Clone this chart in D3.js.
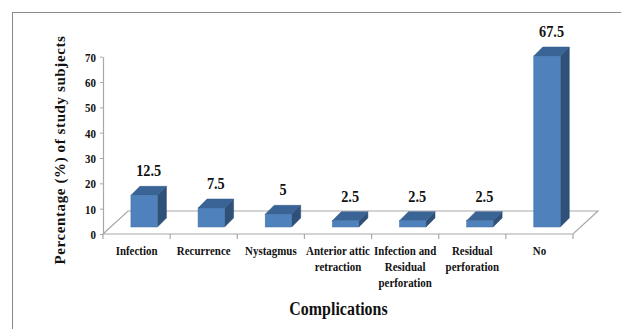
<!DOCTYPE html>
<html>
<head>
<meta charset="utf-8">
<script src="https://cdn.jsdelivr.net/npm/d3@7"></script>
<style>
  html, body { margin: 0; padding: 0; background: #fff; }
  svg { display: block; }
  text { font-family: "Liberation Serif", "Times New Roman", serif; font-weight: bold; fill: #111; }
</style>
</head>
<body>
<svg id="chart" width="621" height="329"></svg>
<script>
// Complications after surgery, percentage of study subjects
const categories = ["Infection", "Recurrence", "Nystagmus", "Anterior attic retraction",
  "Infection and Residual perforation", "Residual perforation", "No"];
const categoryLines = [["Infection"], ["Recurrence"], ["Nystagmus"], ["Anterior attic", "retraction"],
  ["Infection and", "Residual", "perforation"], ["Residual", "perforation"], ["No"]];
const values = [12.5, 7.5, 5, 2.5, 2.5, 2.5, 67.5];
const valueLabels = ["12.5", "7.5", "5", "2.5", "2.5", "2.5", "67.5"];
const yTicks = [0, 10, 20, 30, 40, 50, 60, 70];

const svg = d3.select("#chart");

// outer frame
svg.append("rect").attr("x", 12.5).attr("y", 12.5).attr("width", 620).attr("height", 330)
  .attr("fill", "none").attr("stroke", "#8a8a8a").attr("stroke-width", 1);

// plot geometry (front plane of the 3D floor)
const x0 = 103, x1 = 573, y0 = 234, yTop = 56.7;
const floorDx = 25, floorDy = -23;     // floor depth
const barShiftX = 7.6, barShiftY = -7;  // bars sit inside the floor depth
const depthX = 9, depthY = -9;          // bar thickness
const sx = 0.84;                        // narrow letterforms

const x = d3.scaleBand().domain(categories).range([x0, x1]).padding(0);
const y = d3.scaleLinear().domain([0, 70]).range([y0, yTop]);
const barW = x.bandwidth() * 0.395;

// floor outline
svg.append("path")
  .attr("d", `M${x0},${y0}L${x1},${y0}L${x1 + floorDx},${y0 + floorDy}L${x0 + floorDx},${y0 + floorDy}Z`)
  .attr("fill", "none").attr("stroke", "#a8a8a8").attr("stroke-width", 1.2);

// y axis
const yAxis = svg.append("g").attr("transform", `translate(${x0},0)`)
  .call(d3.axisLeft(y).tickValues(yTicks).tickSize(3).tickSizeOuter(0).tickFormat(d3.format("d")));
yAxis.select(".domain").attr("stroke", "#a8a8a8").attr("stroke-width", 1.2);
yAxis.selectAll(".tick line").attr("stroke", "#a8a8a8");
yAxis.selectAll(".tick text")
  .attr("x", 0).attr("dy", "0.35em")
  .attr("transform", `translate(-7,0) scale(${sx},1)`)
  .style("font-size", "13px").style("font-family", "'Liberation Serif', serif")
  .style("font-weight", "bold").attr("fill", "#111");

// x axis tick marks at category boundaries
const bounds = categories.map(c => x(c)).concat([x1]);
svg.append("g").selectAll("line").data(bounds).join("line")
  .attr("x1", d => d).attr("x2", d => d).attr("y1", y0).attr("y2", y0 + 5)
  .attr("stroke", "#a8a8a8").attr("stroke-width", 1.2);

// 3D bars
const bars = svg.append("g").selectAll("g").data(values).join("g");
const bx = (d, i) => x(categories[i]) + x.bandwidth() / 2 + barShiftX - barW / 2;
const by = d => y(d) + barShiftY;
const bBase = y(0) + barShiftY;

bars.append("path") // side face
  .attr("d", (d, i) => {
    const r = bx(d, i) + barW, t = by(d);
    return `M${r},${bBase}L${r},${t}L${r + depthX},${t + depthY}L${r + depthX},${bBase + depthY}Z`;
  })
  .attr("fill", "#2e5079").attr("stroke", "#2a4870").attr("stroke-width", 0.5);
bars.append("path") // top face
  .attr("d", (d, i) => {
    const l = bx(d, i), t = by(d);
    return `M${l},${t}L${l + barW},${t}L${l + barW + depthX},${t + depthY}L${l + depthX},${t + depthY}Z`;
  })
  .attr("fill", "#3a6496").attr("stroke", "#335a88").attr("stroke-width", 0.5);
bars.append("rect") // front face
  .attr("x", bx).attr("y", by).attr("width", barW).attr("height", d => bBase - by(d))
  .attr("fill", "#4f81bd").attr("stroke", "#44729f").attr("stroke-width", 0.5);

// value labels
svg.append("g").selectAll("text").data(values).join("text")
  .attr("transform", (d, i) => `translate(${bx(d, i) + barW / 2 + depthX / 2},${by(d) + depthY - 10}) scale(${sx},1)`)
  .attr("text-anchor", "middle").style("font-size", "17px")
  .text((d, i) => valueLabels[i]);

// category labels
const catG = svg.append("g").selectAll("g").data(categories).join("g")
  .attr("transform", c => `translate(${x(c) + x.bandwidth() / 2},255) scale(${sx},1)`);
catG.each(function (c, i) {
  d3.select(this).selectAll("text").data(categoryLines[i]).join("text")
    .attr("text-anchor", "middle").attr("y", (l, j) => j * 16)
    .style("font-size", "13px").text(l => l);
});

// axis titles
svg.append("text")
  .attr("transform", `translate(338.5,315) scale(${sx},1)`)
  .attr("text-anchor", "middle").style("font-size", "19px").text("Complications");
svg.append("text")
  .attr("transform", "translate(65,150) rotate(-90)")
  .attr("text-anchor", "middle").style("font-size", "15px").style("letter-spacing", "0.6px")
  .text("Percentage (%) of study subjects");
</script>
</body>
</html>
